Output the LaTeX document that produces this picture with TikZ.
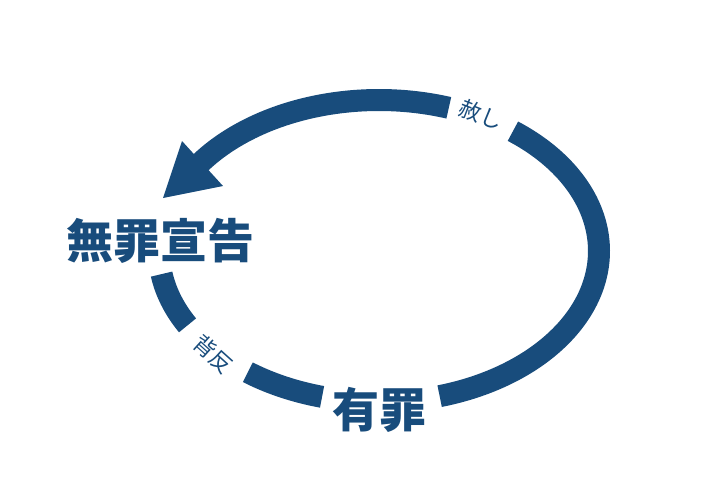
\documentclass[tikz,border=0pt]{standalone}
\usepackage{fontspec}
\newfontfamily\jp{Noto Sans CJK JP}
\definecolor{band}{RGB}{24,76,124}
\begin{document}
\begin{tikzpicture}[x=1pt,y=-1pt,
  bandline/.style={draw=band,line width=22pt,line cap=butt},
  biglabel/.style={text=band,font=\jp\bfseries\fontsize{47}{47}\selectfont,inner sep=0pt},
  smalllabel/.style={text=band,font=\jp\fontsize{22}{22}\selectfont,inner sep=0pt}]
\useasboundingbox (0,0) rectangle (728,490);
% ring segments
\draw[bandline] plot[domain=288.5:212,samples=80,smooth] ({379+220*cos(\x)},{251+151*sin(\x)});
\draw[bandline] plot[domain=307.5:434,samples=100,smooth] ({379+220*cos(\x)},{251+151*sin(\x)});
\draw[bandline] plot[domain=105:126.6,samples=30,smooth] ({379+220*cos(\x)},{251+151*sin(\x)});
\draw[bandline] plot[domain=150.5:171.2,samples=30,smooth] ({379+220*cos(\x)},{251+151*sin(\x)});
% arrowhead
\coordinate (h1) at (182,141);
\coordinate (h2) at (163,198);
\coordinate (h3) at (223,186);
\fill[band] (h1) -- (h2) -- (h3) -- cycle;
% labels
\node[biglabel] (muzai) at (160,241) {無罪宣告};
\node[biglabel] (yuzai) at (379,410) {有罪};
\node[smalllabel,rotate=-21] (yurushi) at (481,115) {赦し};
\node[smalllabel,rotate=-42] (haihan) at (213,354) {背反};
\end{tikzpicture}
\end{document}
